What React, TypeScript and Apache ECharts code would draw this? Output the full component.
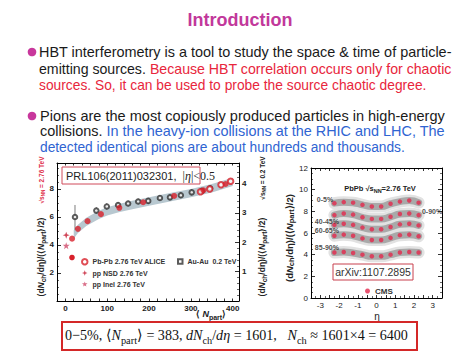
import React, { useEffect, useRef } from 'react';
import * as echarts from 'echarts';

const SANS = '"Liberation Sans", Arial, Helvetica, sans-serif';
const SERIF = '"Liberation Serif", "Times New Roman", serif';

// ---------------- slide texts ----------------
const titleText = 'Introduction';
const bullet1Lines: [string, string][][] = [
  [['HBT interferometry is a tool to study the space & time of particle-', 'k']],
  [['emitting sources. ', 'k'], ['Because HBT correlation occurs only for chaotic', 'r']],
  [['sources. So, it can be used to probe the source chaotic degree.', 'r']],
];
const bullet2Lines: [string, string][][] = [
  [['Pions are the most copiously produced particles in high-energy', 'k']],
  [['collisions. ', 'k'], ['In the heavy-ion collisions at the RHIC and LHC, The', 'b']],
  [['detected identical pions are about hundreds and thousands.', 'b']],
];
const formulaSegs: [string, string][] = [
  ['0\u22125%, ', 'n'], ['\u27e8', 'n'], ['N', 'i'], ['part', 's'], ['\u27e9 = 383, ', 'n'],
  ['dN', 'i'], ['ch', 's'], ['/', 'n'], ['d\u03b7', 'i'], [' = 1601,\u00a0\u00a0 ', 'n'],
  ['N', 'i'], ['ch', 's'], [' \u2248 1601\u00d74 = 6400', 'n'],
];

// ---------------- left panel (ALICE) ----------------
const aliceNpart = [16, 30, 53, 85, 129, 186, 260, 330, 383];
const aliceVal = [4.45, 5.15, 5.7, 6.2, 6.65, 7.05, 7.5, 7.9, 8.35];
const aliceOpenNpart = [323, 345, 372, 395];
const aliceOpenVal = [7.8, 8.0, 8.3, 8.55];
const ppNsd = [[2, 4.7]];
const ppInel = [[2, 3.95]];
const auNpart = [23, 74, 99, 126, 150, 174, 198, 226, 250, 276, 302, 326, 346];
const auVal = [2.86, 3.08, 3.22, 3.27, 3.32, 3.39, 3.41, 3.51, 3.53, 3.6, 3.7, 3.75, 3.84];
const auErrLo = [2.43, 2.97, 3.11, 3.17, 3.22, 3.29, 3.31, 3.41, 3.43, 3.5, 3.6, 3.65, 3.74];
const auErrHi = [3.27, 3.19, 3.33, 3.37, 3.42, 3.49, 3.51, 3.61, 3.63, 3.7, 3.8, 3.85, 3.94];
const bandNpart = [20, 30, 50, 80, 100, 130, 160, 200, 250, 300, 350, 400];
const bandLow = [4.45, 4.85, 5.35, 5.85, 6.1, 6.35, 6.55, 6.8, 7.1, 7.4, 7.75, 8.2];
const bandHigh = [5.05, 5.45, 5.95, 6.45, 6.7, 6.95, 7.15, 7.4, 7.7, 8.0, 8.35, 8.8];

// ---------------- right panel (CMS) ----------------
const cmsEta = [-2.25, -1.75, -1.25, -0.75, -0.25, 0.25, 0.75, 1.25, 1.75, 2.25];
const cmsRows = [
  [8.75, 8.85, 8.8, 8.6, 8.45, 8.45, 8.7, 8.9, 9.0, 8.8],
  [7.65, 7.8, 7.7, 7.45, 7.3, 7.3, 7.5, 7.75, 7.8, 7.65],
  [6.75, 6.85, 6.75, 6.5, 6.35, 6.35, 6.55, 6.8, 6.85, 6.7],
  [5.75, 5.85, 5.75, 5.5, 5.35, 5.35, 5.55, 5.8, 5.85, 5.7],
  [4.2, 4.25, 4.15, 4.0, 3.85, 3.85, 4.0, 4.2, 4.25, 4.2],
];
const cmsLabelText = ['0-5%', '40-45%', '60-65%', '85-90%', '0-90%'];
const cmsLabelEta = [-2.75, -2.65, -2.65, -2.65, 2.97];
const cmsLabelVal = [9.1, 7.05, 6.2, 4.7, 7.95];

let measureCtx: CanvasRenderingContext2D | null = null;
function measure(t: string, font: string): number {
  if (!measureCtx) measureCtx = document.createElement('canvas').getContext('2d');
  if (!measureCtx) return t.length * 7;
  measureCtx.font = font;
  return measureCtx.measureText(t).width;
}

function richLine(segs: [string, string][], x0: number, x1: number, y: number, styles: any) {
  let w = 0;
  segs.forEach(([t, k]) => {
    const s = styles[k];
    w += measure(t, `${s.fontStyle || 'normal'} ${s.fontWeight || 'normal'} ${s.fontSize}px ${s.fontFamily}`);
  });
  return {
    type: 'text',
    x: x0,
    y,
    scaleX: (x1 - x0) / w,
    style: {
      text: segs.map(([t, k]) => `{${k}|${t}}`).join(''),
      rich: styles,
      align: 'left',
      verticalAlign: 'middle',
      textAlign: 'left',
      textVerticalAlign: 'middle',
    },
  };
}

function tok(size: number, fill: string, extra: any = {}) {
  return { fontSize: size, fontFamily: SANS, fill, color: fill, verticalAlign: 'middle', ...extra };
}

export default function App() {
  const ref = useRef<HTMLDivElement>(null);
  useEffect(() => {
    const chart = echarts.init(ref.current!, null, { renderer: 'svg' });

    const slideStyles = {
      k: tok(14, '#1a1a1a'),
      r: tok(14, '#e8263c'),
      b: tok(14, '#2f64d2'),
    };
    const fStyles = {
      n: { fontSize: 15, fontFamily: SERIF, fill: '#111', verticalAlign: 'middle', lineHeight: 20 },
      i: { fontSize: 15, fontFamily: SERIF, fontStyle: 'italic', fill: '#111', verticalAlign: 'middle', lineHeight: 20 },
      s: { fontSize: 11, fontFamily: SERIF, fill: '#111', verticalAlign: 'bottom', lineHeight: 12 },
    };
    const axTitle = (size: number, fill: string) => ({
      b: tok(size, fill, { fontWeight: 'bold', lineHeight: size + 4 }),
      i: tok(size, fill, { fontWeight: 'bold', fontStyle: 'italic', lineHeight: size + 4 }),
      s: tok(size - 2, fill, { fontWeight: 'bold', verticalAlign: 'bottom', lineHeight: size - 1 }),
    });
    const yTitleText = '{b|(d}{i|N}{s|ch}{b|/d\u03b7)/(\u27e8}{i|N}{s|part}{b|\u27e9/2)}';

    const txt = (text: string, x: number, y: number, opts: any = {}, rot = 0) => ({
      type: 'text',
      x,
      y,
      rotation: rot,
      style: {
        text,
        fontFamily: SANS,
        fontSize: 8,
        fontWeight: 'bold',
        fill: '#222',
        align: 'center',
        verticalAlign: 'middle',
        textAlign: 'center',
        textVerticalAlign: 'middle',
        ...opts,
      },
    });

    const graphic: any[] = [
      txt(titleText, 240, 20, { fontSize: 18, fill: '#c2389b' }),
      { type: 'circle', shape: { cx: 32, cy: 52, r: 4.3 }, style: { fill: '#c8379c' } },
      { type: 'circle', shape: { cx: 32, cy: 116, r: 4.3 }, style: { fill: '#c8379c' } },
      richLine(bullet1Lines[0], 39, 452, 52, slideStyles),
      richLine(bullet1Lines[1], 39, 452, 69, slideStyles),
      richLine(bullet1Lines[2], 39, 427, 85, slideStyles),
      richLine(bullet2Lines[0], 40, 445, 116, slideStyles),
      richLine(bullet2Lines[1], 40, 445, 131.5, slideStyles),
      richLine(bullet2Lines[2], 40, 405, 147, slideStyles),
      // left panel decorations
      { type: 'rect', shape: { x: 62, y: 167, width: 138, height: 17 }, style: { fill: '#fff', stroke: '#d04a5a', lineWidth: 1 }, z: 10 },
      {
        type: 'text', x: 66, y: 175.5, z: 11,
        style: {
          text: '{a|PRL106(2011)032301,\u00a0\u00a0}{c||}{e|\u03b7}{c||<0.5}',
          rich: {
            a: tok(11, '#222'),
            c: { fontSize: 12, fontFamily: SERIF, fill: '#222', verticalAlign: 'middle' },
            e: { fontSize: 12, fontFamily: SERIF, fontStyle: 'italic', fill: '#222', verticalAlign: 'middle' },
          },
          align: 'left', verticalAlign: 'middle', textAlign: 'left', textVerticalAlign: 'middle',
        },
      },
      {
        type: 'text', x: 41, y: 180, rotation: Math.PI / 2,
        style: { text: '{b|\u221a}{b|s}{s|NN}{b| = 2.76 TeV}', rich: axTitle(6.5, '#e0304a'), align: 'center', verticalAlign: 'middle', textAlign: 'center', textVerticalAlign: 'middle' },
      },
      {
        type: 'text', x: 41, y: 257, rotation: Math.PI / 2,
        style: { text: yTitleText, rich: axTitle(8.5, '#222'), align: 'center', verticalAlign: 'middle', textAlign: 'center', textVerticalAlign: 'middle' },
      },
      {
        type: 'text', x: 262, y: 178, rotation: Math.PI / 2,
        style: { text: '{b|\u221a}{b|s}{s|NN}{b| = 0.2 TeV}', rich: axTitle(6.5, '#222'), align: 'center', verticalAlign: 'middle', textAlign: 'center', textVerticalAlign: 'middle' },
      },
      {
        type: 'text', x: 262, y: 257, rotation: Math.PI / 2,
        style: { text: yTitleText, rich: axTitle(8.5, '#222'), align: 'center', verticalAlign: 'middle', textAlign: 'center', textVerticalAlign: 'middle' },
      },
      {
        type: 'text', x: 211, y: 314,
        style: { text: '{b|\u27e8 }{i|N}{s|part}{b|\u27e9}', rich: axTitle(9, '#222'), align: 'center', verticalAlign: 'middle', textAlign: 'center', textVerticalAlign: 'middle' },
      },
      { type: 'circle', shape: { cx: 72, cy: 257.5, r: 2.8 }, style: { fill: '#d8202a' }, z: 20 },
      // right panel decorations
      {
        type: 'text', x: 380, y: 188,
        style: { text: '{b|PbPb \u221a}{b|s}{s|NN}{b|=2.76 TeV}', rich: axTitle(7.5, '#222'), align: 'center', verticalAlign: 'middle', textAlign: 'center', textVerticalAlign: 'middle' },
      },
      {
        type: 'text', x: 289, y: 238, rotation: Math.PI / 2,
        style: { text: yTitleText, rich: axTitle(9.5, '#222'), align: 'center', verticalAlign: 'middle', textAlign: 'center', textVerticalAlign: 'middle' },
      },
      txt('\u03b7', 377, 316, { fontSize: 10, fontWeight: 'normal' }),
      { type: 'rect', shape: { x: 333, y: 264, width: 80, height: 16 }, style: { fill: '#fff', stroke: '#c8404e', lineWidth: 1 }, z: 10 },
      txt('arXiv:1107.2895', 373, 272, { fontSize: 10.5, fontWeight: 'normal', fill: '#333' }),
      // formula box
      { type: 'rect', shape: { x: 62, y: 322, width: 355, height: 28 }, style: { fill: '#fff', stroke: '#d42828', lineWidth: 2 } },
      richLine(formulaSegs, 65, 408, 335, fStyles),
    ];
    graphic.forEach((g) => { if (g.z === undefined) g.z = 12; });

    const labelFont = { fontFamily: SANS, fontSize: 8, fontWeight: 'bold', color: '#222' };
    const legendFont = { fontFamily: SANS, fontSize: 7, fontWeight: 'bold', color: '#333' };
    const baseAxis = (extra: any) => ({
      type: 'value',
      axisLine: { show: true, onZero: false, lineStyle: { color: '#000', width: 1 } },
      axisTick: { show: true, inside: true, length: 4, lineStyle: { color: '#000', width: 0.8 } },
      minorTick: { show: false },
      splitLine: { show: false },
      axisLabel: { show: false },
      ...extra,
    });

    const option: any = {
      animation: false,
      backgroundColor: '#fff',
      graphic,
      grid: [
        { left: 57, top: 163, width: 182, height: 138 },
        { left: 311, top: 168, width: 131, height: 130 },
      ],
      xAxis: [
        baseAxis({
          gridIndex: 0, min: -20, max: 415, interval: 20, position: 'bottom',
          axisTick: { show: true, inside: true, length: 2.5, lineStyle: { color: '#000', width: 0.8 } },
          axisLabel: {
            show: true, margin: 3, ...labelFont,
            formatter: (v: number) => (v >= 0 && v <= 400 && Math.abs(v % 100) < 1e-6 ? String(v) : ''),
          },
        }),
        baseAxis({ gridIndex: 0, min: -20, max: 415, interval: 20, position: 'top', axisTick: { show: true, inside: true, length: 2.5, lineStyle: { color: '#000', width: 0.8 } } }),
        baseAxis({
          gridIndex: 1, min: -3.5, max: 3.5, interval: 0.5, position: 'bottom',
          axisTick: { show: true, inside: true, length: 3, lineStyle: { color: '#000', width: 0.8 } },
          minorTick: { show: true, splitNumber: 2, length: 2, lineStyle: { color: '#000', width: 0.6 } },
          axisLabel: {
            show: true, margin: 3, ...labelFont, fontWeight: 'normal',
            formatter: (v: number) => (Number.isInteger(v) && Math.abs(v) <= 3 ? String(v) : ''),
          },
        }),
        baseAxis({
          gridIndex: 1, min: -3.5, max: 3.5, interval: 0.5, position: 'top',
          axisTick: { show: true, inside: true, length: 3, lineStyle: { color: '#000', width: 0.8 } },
          minorTick: { show: true, splitNumber: 2, length: 2, lineStyle: { color: '#000', width: 0.6 } },
        }),
      ],
      yAxis: [
        baseAxis({
          gridIndex: 0, min: 0, max: 9.85, interval: 2, position: 'left',
          minorTick: { show: true, splitNumber: 4, length: 2, lineStyle: { color: '#000', width: 0.6 } },
          axisLabel: {
            show: true, margin: 3, ...labelFont,
            formatter: (v: number) => (v > 0 && v < 9 && v % 2 === 0 ? String(v) : ''),
          },
        }),
        baseAxis({
          gridIndex: 0, min: 0, max: 4.7, interval: 1, position: 'right',
          minorTick: { show: true, splitNumber: 5, length: 2, lineStyle: { color: '#000', width: 0.6 } },
          axisLabel: {
            show: true, margin: 3, ...labelFont,
            formatter: (v: number) => (v >= 1 && v <= 4 && Number.isInteger(v) ? String(v) : ''),
          },
        }),
        baseAxis({
          gridIndex: 1, min: 0, max: 12, interval: 2, position: 'left',
          minorTick: { show: true, splitNumber: 4, length: 2, lineStyle: { color: '#000', width: 0.6 } },
          axisLabel: { show: true, margin: 3, ...labelFont, fontWeight: 'normal' },
        }),
        baseAxis({
          gridIndex: 1, min: 0, max: 12, interval: 2, position: 'right',
          minorTick: { show: true, splitNumber: 4, length: 2, lineStyle: { color: '#000', width: 0.6 } },
        }),
      ],
      legend: [
        {
          left: 76, top: 253, orient: 'vertical', itemGap: 4, itemWidth: 5.5, itemHeight: 5.5,
          textStyle: legendFont,
          data: [
            { name: 'Pb-Pb 2.76 TeV ALICE', icon: 'emptyCircle' },
            'pp NSD 2.76 TeV',
            'pp Inel 2.76 TeV',
          ],
        },
        {
          left: 172, top: 253, itemWidth: 4.5, itemHeight: 4.5,
          textStyle: legendFont,
          data: [{ name: 'Au-Au\u00a0\u00a00.2 TeV', icon: 'emptyRect' }],
        },
        {
          left: 360, top: 282, itemWidth: 5, itemHeight: 5,
          textStyle: { ...legendFont, fontSize: 8 },
          data: ['CMS'],
        },
      ],
      series: [
        {
          type: 'custom', xAxisIndex: 0, yAxisIndex: 0, silent: true, z: 1, data: [0],
          renderItem: (_p: any, api: any) => {
            const up = bandNpart.map((x, i) => api.coord([x, bandHigh[i]]));
            const lo = bandNpart.map((x, i) => api.coord([x, bandLow[i]])).reverse();
            return { type: 'polygon', shape: { points: up.concat(lo) }, style: { fill: '#b8c8d0' } };
          },
        },
        {
          name: 'Au-Au\u00a0\u00a00.2 TeV-err', type: 'custom', xAxisIndex: 0, yAxisIndex: 1, silent: true, z: 3,
          data: auNpart.map((x, i) => [x, auErrLo[i], auErrHi[i]]),
          renderItem: (_p: any, api: any) => {
            const a = api.coord([api.value(0), api.value(1)]);
            const b = api.coord([api.value(0), api.value(2)]);
            return { type: 'line', shape: { x1: a[0], y1: a[1], x2: b[0], y2: b[1] }, style: { stroke: '#444', lineWidth: 0.7 } };
          },
        },
        {
          name: 'Au-Au\u00a0\u00a00.2 TeV', type: 'scatter', xAxisIndex: 0, yAxisIndex: 1, z: 4,
          symbol: 'emptyCircle', symbolSize: 4.5,
          itemStyle: { color: '#333', borderWidth: 0.8 },
          data: auNpart.map((x, i) => [x, auVal[i]]),
        },
        {
          name: 'Pb-Pb open', type: 'scatter', xAxisIndex: 0, yAxisIndex: 0, z: 5,
          symbol: 'emptyCircle', symbolSize: 5.5,
          itemStyle: { color: '#d8202a', borderWidth: 1 },
          data: aliceOpenNpart.map((x, i) => [x, aliceOpenVal[i]]),
        },
        {
          name: 'Pb-Pb 2.76 TeV ALICE', type: 'scatter', xAxisIndex: 0, yAxisIndex: 0, z: 6,
          symbol: 'circle', symbolSize: 6,
          itemStyle: { color: '#d8202a' },
          data: aliceNpart.map((x, i) => [x, aliceVal[i]]),
        },
        {
          name: 'pp NSD 2.76 TeV', type: 'scatter', xAxisIndex: 0, yAxisIndex: 0, z: 6,
          symbol: 'path://M5,0L6.3,3.7L10,5L6.3,6.3L5,10L3.7,6.3L0,5L3.7,3.7Z', symbolSize: 7,
          itemStyle: { color: '#c4182e' },
          data: ppNsd,
        },
        {
          name: 'pp Inel 2.76 TeV', type: 'scatter', xAxisIndex: 0, yAxisIndex: 0, z: 6,
          symbol: 'path://M5,0L6.2,3.6L10,3.6L7,5.9L8.1,9.5L5,7.3L1.9,9.5L3,5.9L0,3.6L3.8,3.6Z', symbolSize: 7,
          itemStyle: { color: '#d04a6a' },
          data: ppInel,
        },
        ...cmsRows.map((row) => ({
          type: 'line', xAxisIndex: 2, yAxisIndex: 2, silent: true, z: 1, smooth: true, symbol: 'none',
          lineStyle: { width: 12, color: '#e2e2e2', cap: 'round' },
          data: cmsEta.map((e, i) => [e, row[i]]),
        })),
        ...cmsRows.map((row) => ({
          type: 'line', xAxisIndex: 2, yAxisIndex: 2, silent: true, z: 2, smooth: true, symbol: 'none',
          lineStyle: { width: 7, color: '#a9a9a9', cap: 'round' },
          data: cmsEta.map((e, i) => [e, row[i]]),
        })),
        {
          name: 'CMS', type: 'scatter', xAxisIndex: 2, yAxisIndex: 2, z: 5,
          symbol: 'circle', symbolSize: 4.5,
          itemStyle: { color: '#e4284c' },
          data: cmsRows.flatMap((row) => cmsEta.map((e, i) => [e, row[i]])),
        },
        {
          type: 'scatter', xAxisIndex: 2, yAxisIndex: 2, z: 6, silent: true, symbolSize: 0,
          label: { show: true, position: 'inside', formatter: '{b}', fontFamily: SANS, fontSize: 7, fontWeight: 'bold', color: '#222' },
          data: cmsLabelText.map((t, i) => ({ name: t, value: [cmsLabelEta[i], cmsLabelVal[i]] })),
        },
      ],
    };
    chart.setOption(option);
    return () => chart.dispose();
  }, []);
  return <div ref={ref} style={{ position: 'fixed', left: 0, top: 0, width: 474, height: 355, background: '#fff' }} />;
}
